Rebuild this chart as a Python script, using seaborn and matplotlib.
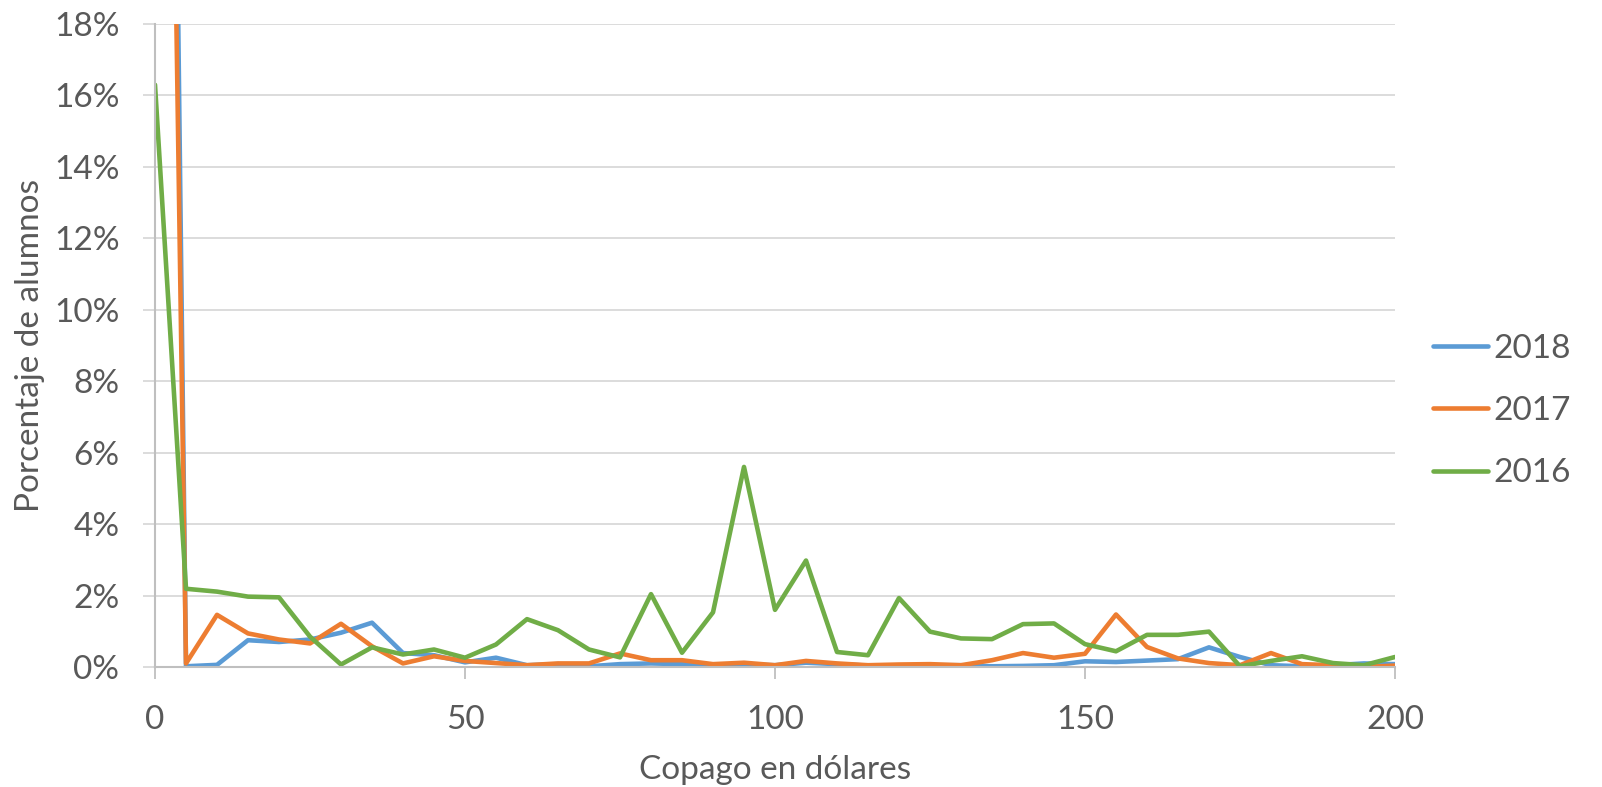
import numpy as np
import pandas as pd
import matplotlib
matplotlib.use("Agg")
import matplotlib.pyplot as plt
from matplotlib.ticker import PercentFormatter
import seaborn as sns

copago = list(range(0, 205, 5))

y2018 = [72, 0.02, 0.06, 0.75, 0.70, 0.77, 0.96, 1.24, 0.39, 0.33, 0.13, 0.26, 0.05, 0.08, 0.02, 0.08,
         0.10, 0.08, 0.05, 0.07, 0.05, 0.12, 0.08, 0.04, 0.04, 0.05, 0.05, 0.02, 0.03, 0.05,
         0.16, 0.14, 0.18, 0.22, 0.55, 0.28, 0.05, 0.02, 0.05, 0.10, 0.08]
y2017 = [58, 0.10, 1.46, 0.94, 0.77, 0.66, 1.21, 0.58, 0.10, 0.30, 0.17, 0.11, 0.05, 0.10, 0.10, 0.38,
         0.19, 0.19, 0.08, 0.12, 0.05, 0.17, 0.10, 0.05, 0.07, 0.08, 0.05, 0.19, 0.39, 0.26,
         0.37, 1.47, 0.56, 0.24, 0.11, 0.05, 0.39, 0.08, 0.05, 0.00, 0.04]
y2016 = [16.3, 2.19, 2.11, 1.97, 1.95, 0.85, 0.07, 0.55, 0.35, 0.49, 0.26, 0.63, 1.34, 1.03, 0.49, 0.27,
         2.04, 0.40, 1.53, 5.60, 1.60, 2.98, 0.42, 0.33, 1.93, 0.99, 0.80, 0.78, 1.20, 1.22,
         0.64, 0.44, 0.90, 0.90, 0.99, 0.02, 0.17, 0.30, 0.11, 0.05, 0.28]

series_names = ["2018", "2017", "2016"]
colors = ["#5B9BD5", "#ED7D31", "#70AD47"]
x_ticks = [0, 50, 100, 150, 200]

df = pd.concat([
    pd.DataFrame({"Copago": copago, "Porcentaje": vals, "Año": name})
    for name, vals in zip(series_names, [y2018, y2017, y2016])
])

sns.set_theme(style="white")
plt.rcParams["font.family"] = ["Lato", "DejaVu Sans"]

FS = 24
TXT = "#595959"

fig = plt.figure(figsize=(16.02, 7.87), dpi=100)
ax = fig.add_axes([155/1602, 1 - 667/787, (1395 - 155)/1602, (667 - 24)/787])

sns.lineplot(data=df, x="Copago", y="Porcentaje", hue="Año", hue_order=series_names,
             palette=colors, linewidth=3.3, ax=ax, legend=True)
for ln in ax.get_lines():
    ln.set_solid_capstyle("round")
    ln.set_solid_joinstyle("round")

ax.set_xlim(0, 200)
ax.set_ylim(0, 18)
ax.set_xticks(x_ticks)
ax.set_yticks(np.arange(0, 19, 2))
ax.yaxis.set_major_formatter(PercentFormatter(100, decimals=0))

ax.grid(axis="y", color="#d9d9d9", linewidth=1.3)
ax.grid(axis="x", visible=False)
ax.set_axisbelow(True)

for s in ["top", "right"]:
    ax.spines[s].set_visible(False)
for s in ["left", "bottom"]:
    ax.spines[s].set_color("#bfbfbf")
    ax.spines[s].set_linewidth(1.5)

ax.tick_params(axis="x", direction="out", length=8.6, width=1.3, color="#bfbfbf",
               labelsize=FS, labelcolor=TXT, pad=19, bottom=True)
ax.tick_params(axis="y", direction="out", length=8.6, width=1.3, color="#d9d9d9",
               labelsize=FS, labelcolor=TXT, pad=17, left=True)

ax.set_xlabel("Copago en dólares", fontsize=FS, color=TXT)
ax.set_ylabel("Porcentaje de alumnos", fontsize=FS, color=TXT)
ax.xaxis.set_label_coords(0.5, -0.137)
ax.yaxis.set_label_coords(-0.089, 0.5)

leg = ax.legend(loc="center left", bbox_to_anchor=(1.031, 0.398), frameon=False,
                fontsize=FS, handlelength=1.65, handletextpad=0.15, labelspacing=0.97,
                borderpad=0, borderaxespad=0, labelcolor=TXT)
for line in leg.get_lines():
    line.set_linewidth(3.3)
    line.set_solid_capstyle("round")

fig.savefig("out.png", dpi=100)
